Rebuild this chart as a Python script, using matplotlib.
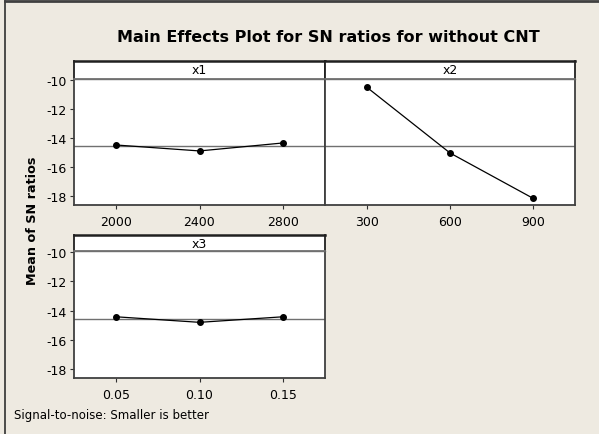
import matplotlib
matplotlib.use("Agg")
import matplotlib.pyplot as plt
import numpy as np

plt.rcParams['font.family'] = ['DejaVu Sans']

title = "Main Effects Plot for SN ratios for without CNT"
ylabel = "Mean of SN ratios"
footer = "Signal-to-noise: Smaller is better"

x1_levels = [2000, 2400, 2800]
x1_means = [-14.47, -14.88, -14.33]
x2_levels = [300, 600, 900]
x2_means = [-10.49, -15.02, -18.15]
x3_levels = [0.05, 0.10, 0.15]
x3_means = [-14.42, -14.80, -14.42]
x3_ticklabels = ["0.05", "0.10", "0.15"]
yticks = [-18, -16, -14, -12, -10]

overall_mean = np.mean(x2_means)

W, H = 599, 435
BG = '#EEEAE1'
fig = plt.figure(figsize=(W / 100, H / 100), dpi=100, facecolor=BG)


def px_axes(x0, y0, x1, y1):
    return fig.add_axes([x0 / W, 1 - y1 / H, (x1 - x0) / W, (y1 - y0) / H])


# figure border (top and left)
fig.add_artist(plt.Line2D([5 / W, 5 / W], [0, 1 - 2 / H], transform=fig.transFigure,
                          color='#303030', lw=1.2))
fig.add_artist(plt.Line2D([5 / W, 1], [1 - 2 / H, 1 - 2 / H], transform=fig.transFigure,
                          color='#404040', lw=2))

fig.text(328 / W, 1 - 37 / H, title, ha='center', va='center', fontsize=11.5,
         fontweight='bold')
fig.text(32 / W, 1 - 221 / H, ylabel, ha='center', va='center', fontsize=9.2,
         fontweight='bold', rotation=90)
fig.text(14 / W, 1 - 416 / H, footer, ha='left', va='center', fontsize=8.5)

panels = [
    ("x1", x1_levels, x1_means, [str(v) for v in x1_levels], (1800, 3000),
     (74, 80, 325, 206), (74, 62, 325, 80), True),
    ("x2", x2_levels, x2_means, [str(v) for v in x2_levels], (150, 1050),
     (325, 80, 575, 206), (325, 62, 575, 80), False),
    ("x3", x3_levels, x3_means, x3_ticklabels, (0.025, 0.175),
     (74, 252, 325, 379), (74, 236, 325, 252), True),
]

ylim = (-18.6, -9.93)
for name, lev, means, tl, xlim, box, sbox, showy in panels:
    ax = px_axes(*box)
    ax.set_facecolor('white')
    ax.axhline(overall_mean, color='#707070', lw=1.0, zorder=1)
    ax.plot(lev, means, color='black', lw=0.9, marker='o', markersize=4,
            zorder=3)
    ax.set_xlim(*xlim)
    ax.set_ylim(*ylim)
    ax.set_xticks(lev)
    ax.set_xticklabels(tl, fontsize=9)
    ax.set_yticks(yticks)
    if showy:
        ax.set_yticklabels([str(v) for v in yticks], fontsize=9)
        ax.tick_params(axis='y', direction='out', length=3, width=0.8,
                       color='#303030', pad=2)
    else:
        ax.tick_params(axis='y', left=False, labelleft=False)
    ax.tick_params(axis='x', direction='out', length=3, width=0.8,
                   color='#303030', pad=4)
    for s in ax.spines.values():
        s.set_color('#404040')
        s.set_linewidth(1.3)
    ax.spines['top'].set_color('#707070')
    ax.spines['top'].set_linewidth(1.0)

    sax = px_axes(*sbox)
    sax.set_facecolor('white')
    sax.set_xticks([])
    sax.set_yticks([])
    for s in sax.spines.values():
        s.set_color('#202020')
        s.set_linewidth(1.3)
    sax.spines['top'].set_linewidth(1.8)
    sax.spines['bottom'].set_color('#707070')
    sax.text(0.5, 0.5, name, transform=sax.transAxes, ha='center',
             va='center', fontsize=9)

fig.savefig("out.png", dpi=100, facecolor=BG)
